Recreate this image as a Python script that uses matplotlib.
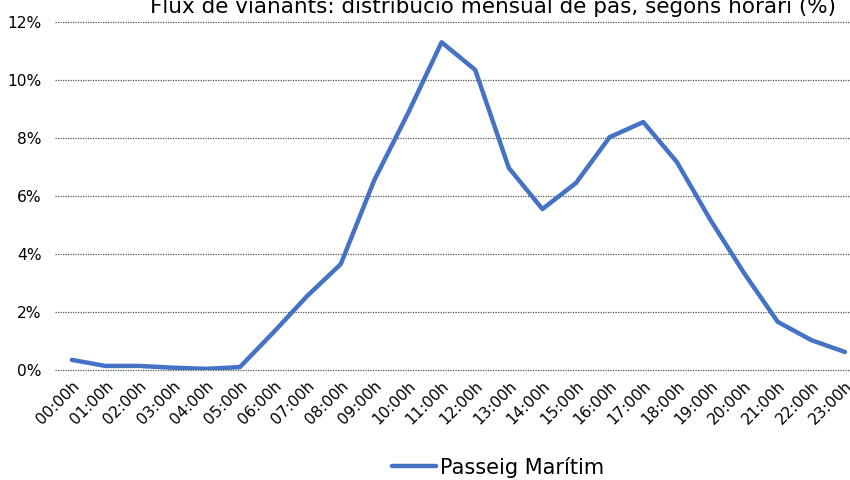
import matplotlib
matplotlib.use("Agg")
import matplotlib.pyplot as plt
from matplotlib.ticker import FuncFormatter

hours = ["00:00h", "01:00h", "02:00h", "03:00h", "04:00h", "05:00h", "06:00h", "07:00h",
         "08:00h", "09:00h", "10:00h", "11:00h", "12:00h", "13:00h", "14:00h", "15:00h",
         "16:00h", "17:00h", "18:00h", "19:00h", "20:00h", "21:00h", "22:00h", "23:00h"]
passeig_maritim = [0.35, 0.14, 0.14, 0.08, 0.04, 0.10, 1.30, 2.55,
                   3.65, 6.55, 8.85, 11.30, 10.35, 6.97, 5.55, 6.45,
                   8.03, 8.55, 7.17, 5.17, 3.34, 1.66, 1.03, 0.62]
series_name = "Passeig Marítim"
title = "Flux de vianants: distribució mensual de pas, segons horari (%)"
yticks = [0, 2, 4, 6, 8, 10, 12]

plt.rcParams['font.family'] = ['DejaVu Sans']

fig = plt.figure(figsize=(8.5, 4.8), dpi=100)
ax = fig.add_axes([55/850, 110/480, 795/850, 348/480])

x = list(range(len(hours)))
line, = ax.plot(x, passeig_maritim, color="#4472C4", lw=3.2, solid_joinstyle='round',
                solid_capstyle='round', label=series_name, zorder=3)

ax.set_ylim(0, 12)
ax.set_xlim(-0.5, 23.15)
ax.set_yticks(yticks)
ax.yaxis.set_major_formatter(FuncFormatter(lambda v, p: f"{int(v)}%"))
ax.set_xticks(x)
ax.set_xticklabels(hours, rotation=45, ha='right', rotation_mode='anchor')
ax.tick_params(axis='both', length=0, labelsize=11.2, colors='#000000')
ax.tick_params(axis='y', pad=9.5)
ax.tick_params(axis='x', pad=6)
for s in ax.spines.values():
    s.set_visible(False)
ax.yaxis.grid(True, color='#555555', linestyle=(0, (1, 1)), linewidth=0.9)
for gl in ax.get_ygridlines():
    gl.set_clip_on(False)
ax.set_axisbelow(True)

fig.text(493/850, (480-13)/480, title, ha='center', va='baseline', fontsize=15.5, color='#000000')

fig.legend(handles=[line], loc='center', bbox_to_anchor=(498/850, (480-467)/480),
           frameon=False, fontsize=15, handlelength=2.1, handletextpad=0.2)

fig.savefig("out.png", dpi=100)
